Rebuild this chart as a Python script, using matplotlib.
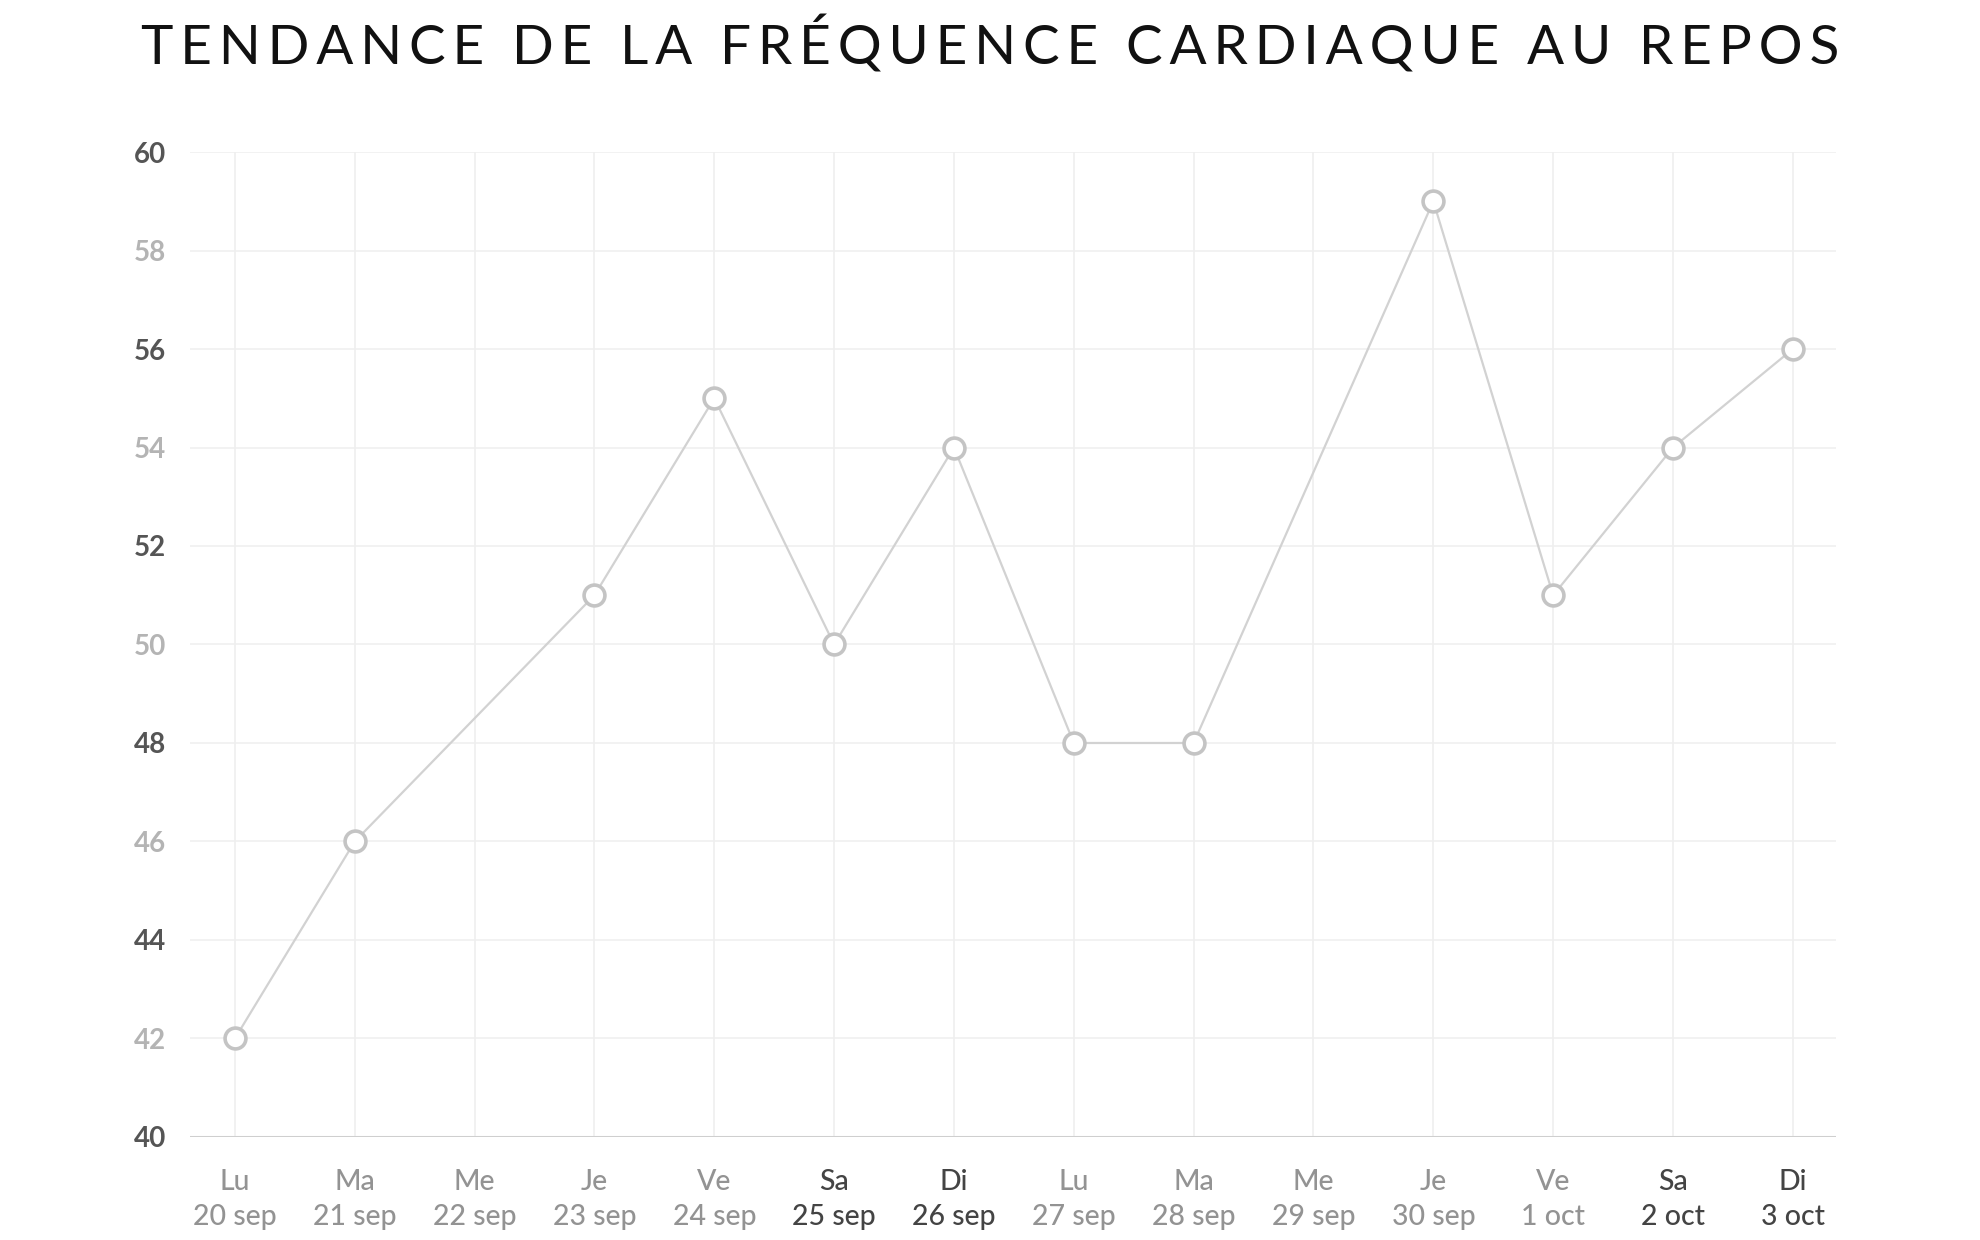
import matplotlib
matplotlib.use("Agg")
import matplotlib.pyplot as plt
import numpy as np

weekdays = ["Lu", "Ma", "Me", "Je", "Ve", "Sa", "Di",
            "Lu", "Ma", "Me", "Je", "Ve", "Sa", "Di"]
dates = ["20 sep", "21 sep", "22 sep", "23 sep", "24 sep", "25 sep", "26 sep",
         "27 sep", "28 sep", "29 sep", "30 sep", "1 oct", "2 oct", "3 oct"]
resting_hr = [42, 46, None, 51, 55, 50, 54, 48, 48, None, 59, 51, 54, 56]
y_ticks = [40, 42, 44, 46, 48, 50, 52, 54, 56, 58, 60]

title = "TENDANCE DE LA FRÉQUENCE CARDIAQUE AU REPOS"

plt.rcParams["font.family"] = ["Lato", "DejaVu Sans"]

fig = plt.figure(figsize=(19.81, 12.40), dpi=100)
ax = fig.add_axes([0.0959, 0.0831, 0.8309, 0.7943])

x = np.arange(len(dates))
hr = np.array([np.nan if v is None else v for v in resting_hr], dtype=float)
ok = ~np.isnan(hr)

ax.plot(x[ok], hr[ok], color="#d2d2d2", lw=1.6, zorder=3,
        marker="o", markersize=15, markerfacecolor="white",
        markeredgecolor="#c4c4c4", markeredgewidth=2.6)

ax.set_xlim(-0.375, len(dates) - 1 + 0.36)
ax.set_ylim(40, 60)

# grid
for yv in y_ticks[1:]:
    ax.axhline(yv, color="#f0f0f0", lw=1.2, zorder=1)
for xv in x:
    ax.axvline(xv, color="#efefef", lw=1.2, zorder=1)
ax.axhline(40, color="#cfcfcf", lw=2.2, zorder=2)

for s in ax.spines.values():
    s.set_visible(False)

ax.set_yticks(y_ticks)
ax.set_yticklabels([str(v) for v in y_ticks], fontsize=20, fontweight="bold")
for v, lab in zip(y_ticks, ax.get_yticklabels()):
    lab.set_color("#555555" if v % 4 == 0 else "#b4b4b4")
ax.tick_params(axis="y", length=0, pad=17)

ax.set_xticks(x)
ax.set_xticklabels([f"{d}\n{t}" for d, t in zip(weekdays, dates)],
                   fontsize=20.5, linespacing=1.42, fontweight="medium")
for d, lab in zip(weekdays, ax.get_xticklabels()):
    lab.set_color("#444444" if d in ("Sa", "Di") else "#939393")
ax.tick_params(axis="x", length=0, pad=23)

spaced = "\u2009".join(title)
fig.text(0.5, 0.964, spaced, ha="center", va="center", fontsize=39.5,
         fontweight="normal", color="#111111")

fig.savefig("out.png", dpi=100, facecolor="white")
